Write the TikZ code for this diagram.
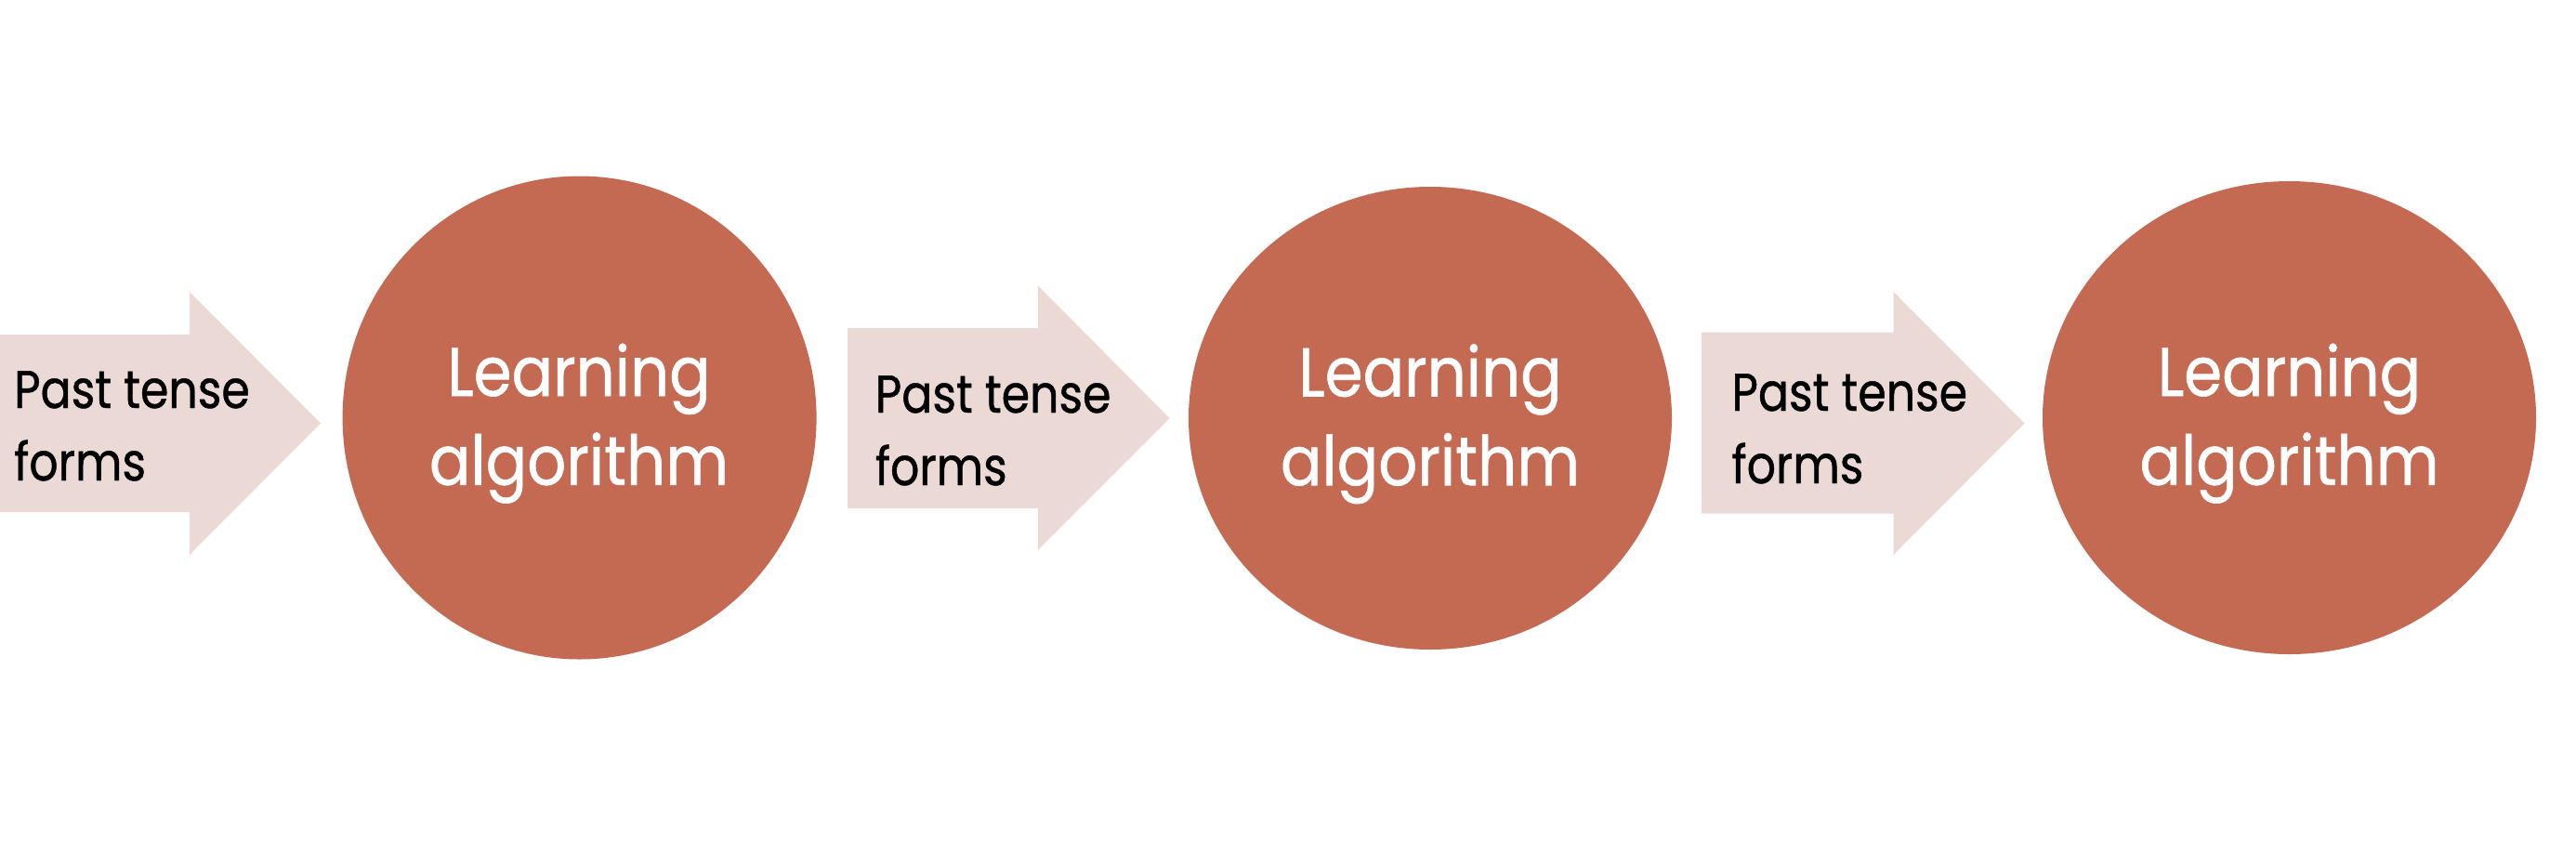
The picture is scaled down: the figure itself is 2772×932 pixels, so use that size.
\documentclass[tikz,border=0pt]{standalone}
\usepackage{fontspec}
\usetikzlibrary{shapes.geometric}
\newfontfamily\popfont[FakeStretch=0.89,FakeBold=0.8]{Poppins}
\newfontfamily\popnarrow[FakeStretch=0.86,FakeBold=0.8]{Poppins}
\definecolor{rust}{HTML}{C46A52}
\definecolor{blush}{HTML}{EBD9D6}
\tikzset{
  blob/.style={ellipse, fill=rust, draw=none, inner sep=0pt},
  blocky/.style={fill=blush, draw=none},
  circtext/.style={anchor=base, inner sep=0pt, text=white, font=\popfont\fontsize{74}{95.7}\selectfont},
  arrtext/.style={anchor=base west, inner sep=0pt, text=black, font=\popnarrow\fontsize{57}{78}\selectfont},
}
\newcommand{\twoC}[2]{\vtop{\halign{\hfil##\hfil\cr #1\cr #2\cr}}}
\newcommand{\twoL}[2]{\vtop{\hbox{#1}\hbox{#2}}}
\begin{document}
\begin{tikzpicture}[x=1pt,y=-1pt]
\useasboundingbox (0,0) rectangle (2772,932);
% arrows
\fill[blocky] (-10,360) -- (204,360) -- (204,314) -- (345,455.5) -- (204,597) -- (204,551) -- (-10,551) -- cycle;
\fill[blocky] (912,353) -- (1117,353) -- (1117,307.5) -- (1258.5,450) -- (1117,591.5) -- (1117,547) -- (912,547) -- cycle;
\fill[blocky] (1831,357.5) -- (2037.5,357.5) -- (2037.5,314) -- (2178.5,455.5) -- (2037.5,597) -- (2037.5,552.5) -- (1831,552.5) -- cycle;
% circles
\node[blob, minimum width=510pt, minimum height=520pt] (c1) at (623.6,449.5) {};
\node[blob, minimum width=520pt, minimum height=498pt] (c2) at (1539,450) {};
\node[blob, minimum width=531pt, minimum height=509pt] (c3) at (2463.5,449.5) {};
% texts
\node[arrtext] (a1) at (15,439) {\twoL{Past tense}{forms}};
\node[arrtext] (a2) at (941.7,444) {\twoL{Past tense}{forms}};
\node[arrtext] (a3) at (1863.3,442) {\twoL{Past tense}{forms}};
\node[circtext] (t1) at (623,426) {\twoC{Learning}{algorithm}};
\node[circtext] (t2) at (1539,426.5) {\twoC{Learning}{algorithm}};
\node[circtext] (t3) at (2463.5,426) {\twoC{Learning}{algorithm}};
\end{tikzpicture}
\end{document}
